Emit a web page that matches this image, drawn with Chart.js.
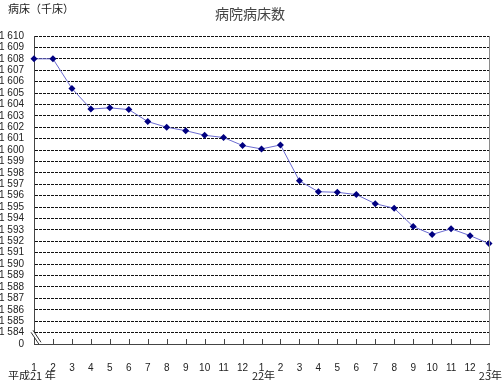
<!DOCTYPE html>
<html><head><meta charset="utf-8">
<script src="https://cdn.jsdelivr.net/npm/chart.js@4"></script>
<style>html,body{margin:0;padding:0;background:#fff}#w{width:502px;height:380px}</style>
</head><body><div id="w"><canvas id="c" width="502" height="380"></canvas></div>
<script>
const chartTitle = '病院病床数';
const yAxisTitle = '病床（千床）';
const months = ['1','2','3','4','5','6','7','8','9','10','11','12','1','2','3','4','5','6','7','8','9','10','11','12','1'];
const beds = [1608.0,1608.0,1605.4,1603.6,1603.7,1603.55,1602.5,1602.0,1601.7,1601.3,1601.1,1600.4,1600.1,1600.45,1597.3,1596.35,1596.3,1596.1,1595.3,1594.9,1593.3,1592.6,1593.1,1592.5,1591.8];
const yearLabels = ['平成21 年','22年','23年'];
const yearIndex = [0,12,24];
const yMin = 1583, yMax = 1610;
const zeroLabel = '0';

const cjk = '"Noto Sans CJK JP", "Liberation Sans", sans-serif';
const extras = {
  id:'extras',
  afterDraw(chart){
    const {ctx, chartArea:a, scales:{x,y}} = chart;
    ctx.save();
    ctx.strokeStyle='#8a8a8a'; ctx.lineWidth=1;
    ctx.beginPath(); ctx.moveTo(Math.round(a.right)+0.5,a.top); ctx.lineTo(Math.round(a.right)+0.5,a.bottom); ctx.stroke();
    ctx.strokeStyle='#444';
    for(let i=1;i<months.length-1;i++){
      const px=Math.round(x.getPixelForValue(i))+0.5;
      ctx.beginPath(); ctx.moveTo(px,a.bottom); ctx.lineTo(px,a.bottom-5); ctx.stroke();
    }
    const bx=a.left, by=y.getPixelForValue(yMin+0.5);
    ctx.fillStyle='#fff';
    ctx.beginPath(); ctx.moveTo(bx-3,by-6); ctx.lineTo(bx-1,by-8); ctx.lineTo(bx+7,by+4); ctx.lineTo(bx+5,by+6); ctx.closePath(); ctx.fill();
    ctx.strokeStyle='#333';
    ctx.beginPath(); ctx.moveTo(bx-3,by-6); ctx.lineTo(bx+5,by+6); ctx.stroke();
    ctx.beginPath(); ctx.moveTo(bx-1,by-8); ctx.lineTo(bx+7,by+4); ctx.stroke();
    ctx.fillStyle='#444'; ctx.textBaseline='middle';
    ctx.font='14px '+cjk; ctx.textAlign='center';
    ctx.fillText(chartTitle, 250, 14);
    ctx.fillStyle='#222';
    ctx.font='11px '+cjk; ctx.textAlign='left';
    ctx.fillText(yAxisTitle, 8, 9);
    yearLabels.forEach((t,k)=>{
      const px=x.getPixelForValue(yearIndex[k]);
      if(k===0){ctx.textAlign='left'; ctx.fillText(t, 8, 376);}
      else if(k===yearLabels.length-1){ctx.textAlign='right'; ctx.fillText(t, 502, 376);}
      else {ctx.textAlign='center'; ctx.fillText(t, px+2, 376);}
    });
    ctx.restore();
  }
};

new Chart(document.getElementById('c'),{
  type:'line',
  data:{labels:months,datasets:[{
    data:beds,
    borderColor:'#6b6bd0',borderWidth:1,
    pointStyle:'rectRot',pointRadius:3.5,pointBackgroundColor:'#000080',pointBorderColor:'#000080',pointBorderWidth:0,
    tension:0,clip:false
  }]},
  options:{
    responsive:false,animation:false,devicePixelRatio:1,
    layout:{padding:{left:0,right:13,top:36,bottom:0}},
    plugins:{legend:{display:false},title:{display:false},tooltip:{enabled:false}},
    scales:{
      x:{
        offset:false,
        grid:{display:false},
        border:{display:true,color:'#444',width:1},
        ticks:{color:'#222',font:{family:'"Liberation Sans", sans-serif',size:10},padding:10,maxRotation:0,autoSkip:false},
        afterFit(s){s.height=36;}
      },
      y:{
        min:yMin,max:yMax,
        grid:{color:'#111',lineWidth:c=>c.tick&&c.tick.value===yMin?0:1,drawTicks:false},
        border:{display:true,color:'#444',width:1,dash:[3,1]},
        ticks:{stepSize:1,autoSkip:false,color:'#222',padding:10,font:{family:'"Liberation Sans", sans-serif',size:10},
          callback:v=>v===yMin?zeroLabel:(String(v).slice(0,1)+' '+String(v).slice(1))},
        afterFit(s){s.width=34;}
      }
    }
  },
  plugins:[extras]
});
</script></body></html>
